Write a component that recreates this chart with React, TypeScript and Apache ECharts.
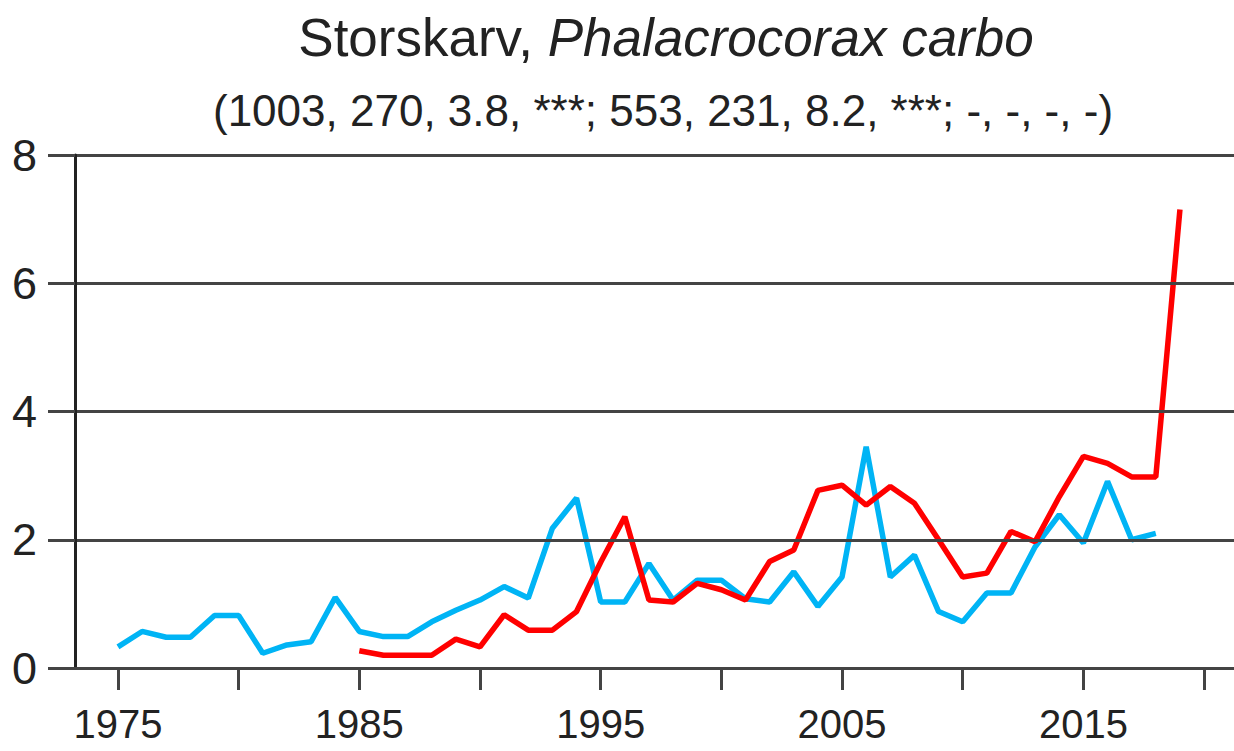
import React, { useEffect, useRef } from "react";
import * as echarts from "echarts";

const titleMain = "Storskarv, ";
const titleLatin = "Phalacrocorax carbo";
const subtitle = "(1003, 270, 3.8, ***; 553, 231, 8.2, ***; -, -, -, -)";

const blueYears = [
  1975, 1976, 1977, 1978, 1979, 1980, 1981, 1982, 1983, 1984, 1985, 1986, 1987, 1988, 1989,
  1990, 1991, 1992, 1993, 1994, 1995, 1996, 1997, 1998, 1999, 2000, 2001, 2002, 2003, 2004,
  2005, 2006, 2007, 2008, 2009, 2010, 2011, 2012, 2013, 2014, 2015, 2016, 2017, 2018,
];
const blueValues = [
  0.33, 0.57, 0.48, 0.48, 0.82, 0.82, 0.23, 0.36, 0.41, 1.1, 0.57, 0.49, 0.49, 0.72, 0.9,
  1.06, 1.27, 1.09, 2.18, 2.65, 1.03, 1.03, 1.63, 1.06, 1.37, 1.37, 1.08, 1.03, 1.5, 0.96,
  1.42, 3.45, 1.42, 1.76, 0.88, 0.72, 1.17, 1.17, 1.89, 2.39, 1.95, 2.91, 2.0, 2.1,
];

const redYears = [
  1985, 1986, 1987, 1988, 1989, 1990, 1991, 1992, 1993, 1994, 1995, 1996, 1997, 1998, 1999,
  2000, 2001, 2002, 2003, 2004, 2005, 2006, 2007, 2008, 2009, 2010, 2011, 2012, 2013, 2014,
  2015, 2016, 2017, 2018, 2019,
];
const redValues = [
  0.27, 0.2, 0.2, 0.2, 0.45, 0.33, 0.83, 0.59, 0.59, 0.88, 1.65, 2.36, 1.06, 1.03, 1.32,
  1.22, 1.06, 1.66, 1.84, 2.77, 2.85, 2.54, 2.83, 2.57, 2.0, 1.42, 1.48, 2.13, 1.97, 2.67,
  3.3, 3.19, 2.98, 2.98, 7.15,
];

const xTickValues = [1975, 1980, 1985, 1990, 1995, 2000, 2005, 2010, 2015, 2020];
const xLabelValues = [1975, 1985, 1995, 2005, 2015];

const FONT = "'Liberation Sans', Arial, sans-serif";
const TEXT = "#222";
const GRID = "#444";

export default function App() {
  const ref = useRef<HTMLDivElement>(null);
  useEffect(() => {
    if (!ref.current) return;
    const chart = echarts.init(ref.current, null, { renderer: "svg" });
    chart.setOption({
      animation: false,
      backgroundColor: "#fff",
      title: [
        {
          text: `{a|${titleMain}}{b|${titleLatin}}`,
          left: 661,
          top: 6,
          textAlign: "center",
          textStyle: {
            fontWeight: "normal",
            rich: {
              a: { fontFamily: FONT, fontSize: 53, color: TEXT, fontWeight: "normal" },
              b: {
                fontFamily: FONT,
                fontSize: 53,
                color: TEXT,
                fontWeight: "normal",
                fontStyle: "italic",
              },
            },
          },
        },
        {
          text: subtitle,
          left: 658,
          top: 83,
          textAlign: "center",
          textStyle: { fontFamily: FONT, fontSize: 44, color: TEXT, fontWeight: "normal" },
        },
      ],
      grid: { left: 75, right: 0, top: 155, bottom: 83, containLabel: false },
      xAxis: {
        type: "value",
        min: 1973.22,
        max: 2021.24,
        z: 3,
        splitLine: { show: false },
        axisLine: { show: true, onZero: false, lineStyle: { color: GRID, width: 3 } },
        axisTick: {
          show: true,
          length: 22,
          customValues: xTickValues,
          lineStyle: { color: GRID, width: 3 },
        },
        axisLabel: {
          customValues: xLabelValues,
          formatter: (v: number) => String(v),
          margin: 38,
          fontFamily: FONT,
          fontSize: 40,
          lineHeight: 36,
          color: TEXT,
        },
      },
      yAxis: {
        type: "value",
        min: 0,
        max: 8,
        interval: 2,
        z: 3,
        axisLine: { show: true, lineStyle: { color: "#222", width: 3 } },
        axisTick: { show: true, length: 27, lineStyle: { color: GRID, width: 3 } },
        splitLine: { show: true, lineStyle: { color: GRID, width: 3 } },
        axisLabel: { margin: 38, fontFamily: FONT, fontSize: 45, color: TEXT },
      },
      series: [
        {
          type: "line",
          data: blueYears.map((y, i) => [y, blueValues[i]]),
          showSymbol: false,
          lineStyle: { color: "#00B4F5", width: 5.5 },
          itemStyle: { color: "#00B4F5" },
          z: 2,
        },
        {
          type: "line",
          data: redYears.map((y, i) => [y, redValues[i]]),
          showSymbol: false,
          lineStyle: { color: "#FF0000", width: 5.5 },
          itemStyle: { color: "#FF0000" },
          z: 2,
        },
      ],
    });
    return () => chart.dispose();
  }, []);
  return (
    <div
      ref={ref}
      style={{ position: "fixed", left: 0, top: 0, width: 1234, height: 751 }}
    />
  );
}
